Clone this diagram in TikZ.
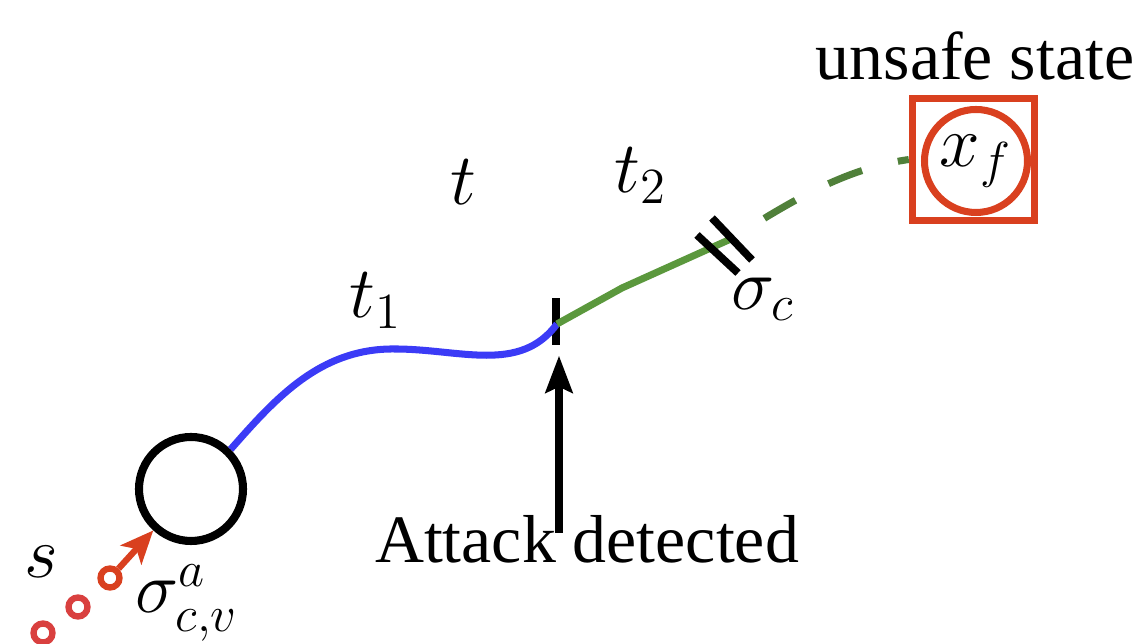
\documentclass[tikz,border=0pt]{standalone}
\usepackage[no-math]{fontspec}
\setmainfont{Liberation Serif}
\usepackage{tikz}
\usetikzlibrary{arrows.meta, positioning}
\definecolor{trajblue}{HTML}{3B3BF6}
\definecolor{safegreen}{HTML}{5B983D}
\definecolor{darkgreen}{HTML}{50803A}
\definecolor{unsafered}{HTML}{D9401F}
\definecolor{pastred}{HTML}{D9403F}

\begin{document}
\begin{tikzpicture}[
    every node/.style={font=\fontsize{19.3}{23}\selectfont},
    state/.style={circle, draw=black, line width=2.3pt, minimum size=10.4mm, inner sep=0pt},
    goal/.style={rectangle, draw=unsafered, line width=2.1pt, minimum size=12.2mm, inner sep=0pt},
    goalc/.style={circle, draw=unsafered, line width=2pt, minimum size=10.3mm, inner sep=0pt},
    past/.style={circle, draw=pastred, line width=1.8pt, minimum size=1.9mm, inner sep=0pt},
    lab/.style={anchor=base, inner sep=0pt},
    nominal/.style={line width=2pt, color=trajblue},
    hit/.style={line width=2pt, color=safegreen},
    reach/.style={line width=2pt, color=darkgreen, dash pattern=on 3.6mm off 3.7mm, dash phase=3.6mm},
    brk/.style={line width=2.2pt, color=black},
    detect/.style={-{Stealth[length=3.7mm, width=2.7mm, inset=0.6mm]}, line width=2.1pt, shorten >=1mm},
    inject/.style={-{Stealth[length=3.3mm, width=2.8mm, inset=0.8mm]}, line width=1.8pt, color=unsafered}
]
\useasboundingbox (0,0) rectangle (11.39,6.44);

% States
\node[state] (start) at (1.91,1.55) {};
\node[goal] (box) at (9.735,4.845) {};
\node[goalc] (xf) at (9.76,4.83) {$x_f$};
\node[lab] (unsafe) at (9.75,5.64) {unsafe state};

% Past samples
\node[past, draw=unsafered] (c1) at (1.10,0.66) {};
\node[past] (c2) at (0.78,0.37) {};
\node[past] (c3) at (0.43,0.11) {};

% Detection mark
\node[rectangle, fill=black, minimum width=0.8mm, minimum height=4.7mm, inner sep=0pt] (tick) at (5.56,3.225) {};
\coordinate (join) at (5.57,3.20);
\coordinate (bend) at (6.22,3.56);
\coordinate (cut) at (7.33,4.06);
\coordinate (foot) at (5.59,1.11);

% Labels
\node[lab] (tlab) at (4.63,4.39) {$t$};
\node[lab] (t1lab) at (3.76,3.26) {$t_1$};
\node[lab] (t2lab) at (6.41,4.51) {$t_2$};
\node[lab] (sclab) at (7.63,3.34) {$\sigma_c$};
\node[lab] (slab) at (0.41,0.66) {$s$};
\node[lab] (salab) at (1.87,0.31) {$\sigma^a_{c,v}$};
\node[lab] (attack) at (5.87,0.81) {Attack detected};

% Trajectory
\draw[nominal] (start.45) .. controls (2.75,2.45) and (3.2,2.96) .. (3.95,2.95)
    .. controls (4.6,2.95) and (5.2,2.7) .. (join);
\draw[hit] (join) -- (bend) -- (cut);
\draw[reach] (cut) .. controls (8.0,4.49) and (8.5,4.76) .. (box.west);
\draw[brk] (7.12,4.26) -- (7.52,3.84);
\draw[brk] (6.97,4.09) -- (7.38,3.71);

% Arrows
\draw[detect] (foot) -- (foot |- tick.south);
\draw[inject] (c1) -- (start);
\end{tikzpicture}
\end{document}
